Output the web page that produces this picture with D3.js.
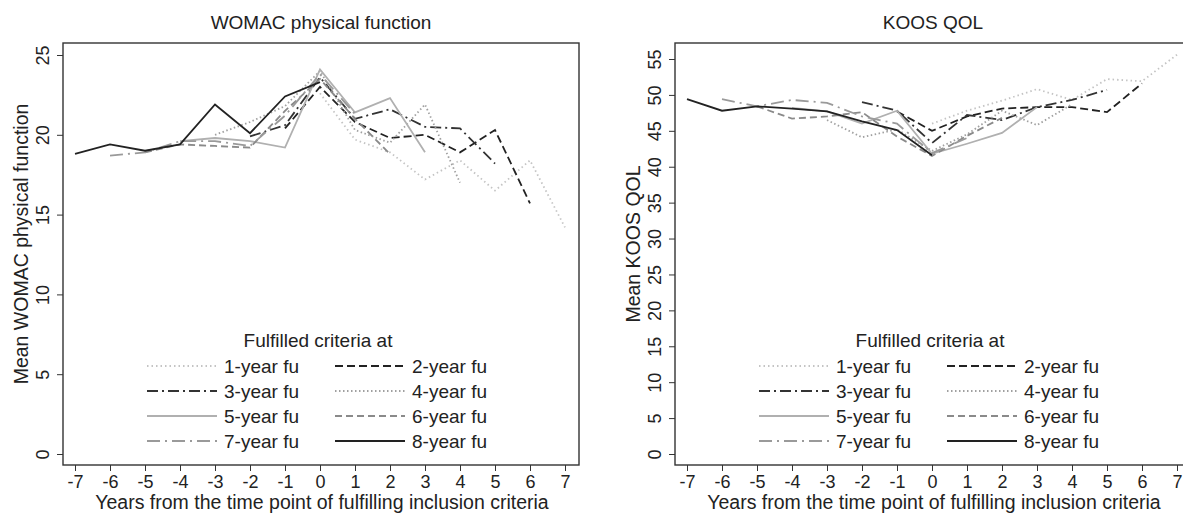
<!DOCTYPE html>
<html>
<head>
<meta charset="utf-8">
<script src="https://cdnjs.cloudflare.com/ajax/libs/d3/7.8.5/d3.min.js"></script>
<style>
  body { margin: 0; background: #fff; }
  svg text { font-family: "Liberation Sans", Arial, sans-serif; fill: #222; }
</style>
</head>
<body>
<svg id="chart" width="1183" height="516"></svg>
<script>
// series names (criteria fulfilled at k-year follow-up)
var fuLabels = ["1-year fu", "2-year fu", "3-year fu", "4-year fu",
                "5-year fu", "6-year fu", "7-year fu", "8-year fu"];

// first year on the x axis for each series (k-year fu runs from -(k-1) to 8-k)
var fuStart = [0, -1, -2, -3, -4, -5, -6, -7];

var xTicks = [-7, -6, -5, -4, -3, -2, -1, 0, 1, 2, 3, 4, 5, 6, 7];
var womacTicks = [0, 5, 10, 15, 20, 25];
var koosTicks = [0, 5, 10, 15, 20, 25, 30, 35, 40, 45, 50, 55];

// mean WOMAC physical function, one array per series
var womac1 = [22.6, 19.7, 18.9, 17.2, 18.4, 16.5, 18.4, 14.2];
var womac2 = [20.4, 23.0, 20.8, 19.8, 20.0, 18.9, 20.3, 15.7];
var womac3 = [19.9, 20.6, 23.6, 21.0, 21.6, 20.5, 20.4, 18.2];
var womac4 = [20.0, 20.8, 21.8, 24.0, 20.3, 19.5, 21.9, 17.0];
var womac5 = [19.6, 19.8, 19.6, 19.2, 24.1, 21.4, 22.3, 18.9];
var womac6 = [18.9, 19.4, 19.3, 19.2, 21.5, 23.5, 21.0, 18.8];
var womac7 = [18.7, 18.9, 19.6, 19.6, 19.3, 21.2, 23.8, 21.3];
var womac8 = [18.8, 19.4, 19.0, 19.4, 21.9, 20.1, 22.4, 23.3];

// mean KOOS QOL
var koos1 = [46.0, 47.8, 49.2, 50.8, 49.3, 52.2, 51.9, 55.6];
var koos2 = [47.7, 45.0, 47.0, 48.1, 48.3, 48.3, 47.6, 51.6];
var koos3 = [49.0, 47.8, 43.3, 47.2, 46.5, 48.3, 49.3, 50.7];
var koos4 = [46.5, 44.1, 45.2, 42.2, 44.5, 47.8, 45.8, 48.7];
var koos5 = [48.2, 47.7, 46.0, 47.8, 41.8, 43.2, 44.7, 48.3];
var koos6 = [48.4, 46.7, 47.0, 47.6, 44.2, 41.5, 44.3, 46.8];
var koos7 = [49.4, 48.4, 49.3, 48.9, 47.0, 46.0, 41.9, 44.0];
var koos8 = [49.4, 47.8, 48.4, 48.1, 47.7, 46.3, 45.1, 41.6];

// grey-scale line styles (stata look)
var styles = [
  { color: "#c4c4c4", dash: "1.5,3" },
  { color: "#222",    dash: "8,4" },
  { color: "#333",    dash: "11,4,2,4" },
  { color: "#a0a0a0", dash: "1.5,2.5" },
  { color: "#b0b0b0", dash: null },
  { color: "#8a8a8a", dash: "7,4" },
  { color: "#9a9a9a", dash: "13,5,2,5" },
  { color: "#222",    dash: null }
];

var svg = d3.select("#chart");

var x = d3.scaleLinear().domain([-7, 7]).range([75, 565]);

function drawPanel(offset, title, yTitle, yDomain, yRange, yTicks, series) {
  var g = svg.append("g").attr("transform", "translate(" + offset + ",0)");
  var y = d3.scaleLinear().domain(yDomain).range(yRange);

  // plot box
  g.append("rect")
    .attr("x", 63).attr("y", 43)
    .attr("width", 516).attr("height", 422)
    .attr("fill", "#fff")
    .attr("stroke", "#333").attr("stroke-width", 1.4);

  // x axis
  var xa = g.append("g").attr("transform", "translate(0,465)")
    .call(d3.axisBottom(x).tickValues(xTicks).tickSize(6).tickPadding(4).tickFormat(d3.format("d")));
  xa.select(".domain").remove();
  xa.selectAll("line").attr("stroke", "#333");
  xa.selectAll("text").attr("font-size", 18).style("fill", "#222")
    .text(function(d) { return d < 0 ? "-" + Math.abs(d) : d; });

  // y axis, labels turned up
  var ya = g.append("g").attr("transform", "translate(63,0)")
    .call(d3.axisLeft(y).tickValues(yTicks).tickSize(6).tickPadding(0));
  ya.select(".domain").remove();
  ya.selectAll("line").attr("stroke", "#333");
  ya.selectAll("text")
    .attr("font-size", 18).style("fill", "#222")
    .attr("x", 0).attr("dy", 0)
    .attr("text-anchor", "middle")
    .attr("transform", "translate(-14,0) rotate(-90)");

  // lines
  var line = d3.line()
    .x(function(d) { return x(d.yr); })
    .y(function(d) { return y(d.v); });

  series.forEach(function(vals, i) {
    var pts = vals.map(function(v, j) { return { yr: fuStart[i] + j, v: v }; });
    g.append("path")
      .datum(pts)
      .attr("d", line)
      .attr("fill", "none")
      .attr("stroke", styles[i].color)
      .attr("stroke-width", 1.8)
      .attr("stroke-dasharray", styles[i].dash);
  });

  // titles
  g.append("text").attr("x", 321).attr("y", 29)
    .attr("text-anchor", "middle").attr("font-size", 19).text(title);
  g.append("text").attr("x", 322).attr("y", 509)
    .attr("text-anchor", "middle").attr("font-size", 19.5)
    .text("Years from the time point of fulfilling inclusion criteria");
  g.append("text")
    .attr("transform", "translate(" + 28 + ",244) rotate(-90)")
    .attr("text-anchor", "middle").attr("font-size", 19.5).text(yTitle);

  // legend
  var lg = g.append("g");
  lg.append("text").attr("x", 318).attr("y", 347)
    .attr("text-anchor", "middle").attr("font-size", 19).text("Fulfilled criteria at");
  fuLabels.forEach(function(lab, i) {
    var col = i % 2, row = Math.floor(i / 2);
    var lx = col === 0 ? 147 : 335;
    var ly = 366 + row * 25;
    lg.append("line")
      .attr("x1", lx).attr("x2", lx + 70)
      .attr("y1", ly).attr("y2", ly)
      .attr("stroke", styles[i].color)
      .attr("stroke-width", 1.8)
      .attr("stroke-dasharray", styles[i].dash);
    lg.append("text").attr("x", lx + 77).attr("y", ly + 6.5)
      .attr("font-size", 19).text(lab);
  });
}

drawPanel(0, "WOMAC physical function", "Mean WOMAC physical function",
  [0, 25], [454, 55], womacTicks,
  [womac1, womac2, womac3, womac4, womac5, womac6, womac7, womac8]);

drawPanel(612, "KOOS QOL", "Mean KOOS QOL",
  [0, 55], [454, 59], koosTicks,
  [koos1, koos2, koos3, koos4, koos5, koos6, koos7, koos8]);
</script>
</body>
</html>
